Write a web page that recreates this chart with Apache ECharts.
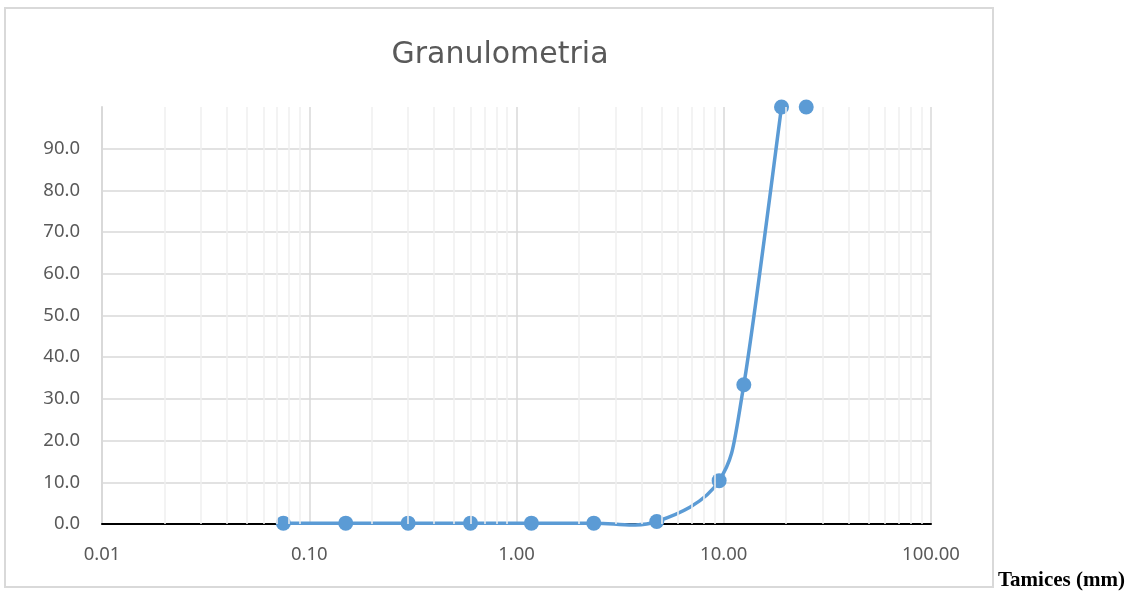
<!DOCTYPE html>
<html>
<head>
<meta charset="utf-8">
<script src="https://cdn.jsdelivr.net/npm/echarts@6/dist/echarts.min.js"></script>
<style>
  html, body { margin: 0; padding: 0; background: #ffffff; }
  #chart { width: 1131px; height: 592px; }
</style>
</head>
<body>
<div id="chart"></div>
<script>
// Sieve openings (mm) and cumulative percentage passing
const sieveSizes = [0.075, 0.15, 0.3, 0.6, 1.18, 2.36, 4.75, 9.5, 12.5, 19, 25];
const passingPct = [0.2, 0.2, 0.2, 0.2, 0.2, 0.2, 0.6, 10.4, 33.4, 100, 100];
// Points joined by the smoothed curve (the last sieve stands alone)
const curveCount = 10;

const xDecades = [0.01, 0.1, 1, 10, 100];
const yTicks = [0, 10, 20, 30, 40, 50, 60, 70, 80, 90, 100];

const BLUE = '#5B9BD5';
const TEXT = '#595959';
const GRID = '#d9d9d9';
const FONT = '"Noto Sans", "DejaVu Sans", sans-serif';

const points = sieveSizes.map((s, i) => [s, passingPct[i]]);
const curvePoints = points.slice(0, curveCount);

// Minor log gridlines: 2..9 within each decade
const minorLines = [];
for (let d = 0; d < xDecades.length - 1; d++) {
  for (let k = 2; k <= 9; k++) {
    minorLines.push({ xAxis: +(xDecades[d] * k).toPrecision(3) });
  }
}

// Catmull-Rom style smoothing through the projected points (no overshoot clamp)
function smoothPath(px) {
  const t = 1 / 6;
  let d = 'M' + px[0][0] + ' ' + px[0][1];
  for (let i = 0; i < px.length - 1; i++) {
    const p0 = px[i - 1] || px[i];
    const p1 = px[i];
    const p2 = px[i + 1];
    const p3 = px[i + 2] || px[i + 1];
    const c1x = p1[0] + (p2[0] - p0[0]) * t;
    const c1y = p1[1] + (p2[1] - p0[1]) * t;
    const c2x = p2[0] - (p3[0] - p1[0]) * t;
    const c2y = p2[1] - (p3[1] - p1[1]) * t;
    d += ' C' + c1x + ' ' + c1y + ' ' + c2x + ' ' + c2y + ' ' + p2[0] + ' ' + p2[1];
  }
  return d;
}

const chart = echarts.init(document.getElementById('chart'), null, { renderer: 'canvas' });

chart.setOption({
  animation: false,
  backgroundColor: '#ffffff',
  grid: { left: 102, right: 200, top: 107, bottom: 68, containLabel: false },
  graphic: [
    {
      type: 'rect',
      z: -1,
      shape: { x: 5, y: 8, width: 988, height: 579 },
      style: { fill: 'none', stroke: GRID, lineWidth: 2 }
    },
    {
      type: 'text',
      x: 500, y: 55,
      style: {
        text: 'Granulometria',
        font: '30px "DejaVu Sans", sans-serif',
        fill: TEXT,
        textAlign: 'center',
        textVerticalAlign: 'middle'
      }
    },
    {
      type: 'text',
      x: 998, y: 581,
      style: {
        text: 'Tamices (mm)',
        font: 'bold 21px "Liberation Serif", "Times New Roman", serif',
        fill: '#000000',
        textAlign: 'left',
        textVerticalAlign: 'middle'
      }
    }
  ],
  xAxis: {
    type: 'log',
    logBase: 10,
    min: xDecades[0],
    max: xDecades[xDecades.length - 1],
    axisLine: { show: true, onZero: false, lineStyle: { color: '#000000', width: 2 } },
    axisTick: { show: false },
    axisLabel: {
      margin: 21,
      color: TEXT,
      fontFamily: FONT,
      fontSize: 18.5,
      formatter: v => Number(v).toFixed(2)
    },
    splitLine: { show: true, lineStyle: { color: GRID, width: 1.5 } }
  },
  yAxis: {
    type: 'value',
    min: yTicks[0],
    max: yTicks[yTicks.length - 1],
    interval: 10,
    axisLine: { show: true, onZero: false, lineStyle: { color: GRID, width: 2 } },
    axisTick: { show: false },
    axisLabel: {
      margin: 22,
      color: TEXT,
      fontFamily: FONT,
      fontSize: 18.5,
      showMaxLabel: false,
      formatter: v => Number(v).toFixed(1)
    },
    splitLine: { show: true, showMaxLine: false, lineStyle: { color: GRID, width: 1.5 } }
  },
  series: [
    {
      name: 'minor-grid',
      type: 'line',
      z: 1,
      data: [],
      silent: true,
      markLine: {
        silent: true,
        symbol: ['none', 'none'],
        label: { show: false },
        lineStyle: { color: '#efefef', width: 1.5, type: 'solid' },
        emphasis: { disabled: true },
        data: minorLines
      }
    },
    {
      name: 'Granulometria-curve',
      type: 'custom',
      z: 3,
      silent: true,
      data: curvePoints,
      renderItem: function (params, api) {
        if (params.dataIndex !== 0) return null;
        const px = curvePoints.map(p => api.coord(p));
        return {
          type: 'path',
          shape: { pathData: smoothPath(px) },
          style: { fill: 'none', stroke: BLUE, lineWidth: 3.5, lineJoin: 'round', lineCap: 'round' }
        };
      }
    },
    {
      name: 'Granulometria',
      type: 'scatter',
      z: 4,
      data: points,
      symbol: 'circle',
      symbolSize: 15,
      clip: false,
      itemStyle: { color: BLUE, opacity: 1 }
    }
  ]
});
</script>
</body>
</html>
